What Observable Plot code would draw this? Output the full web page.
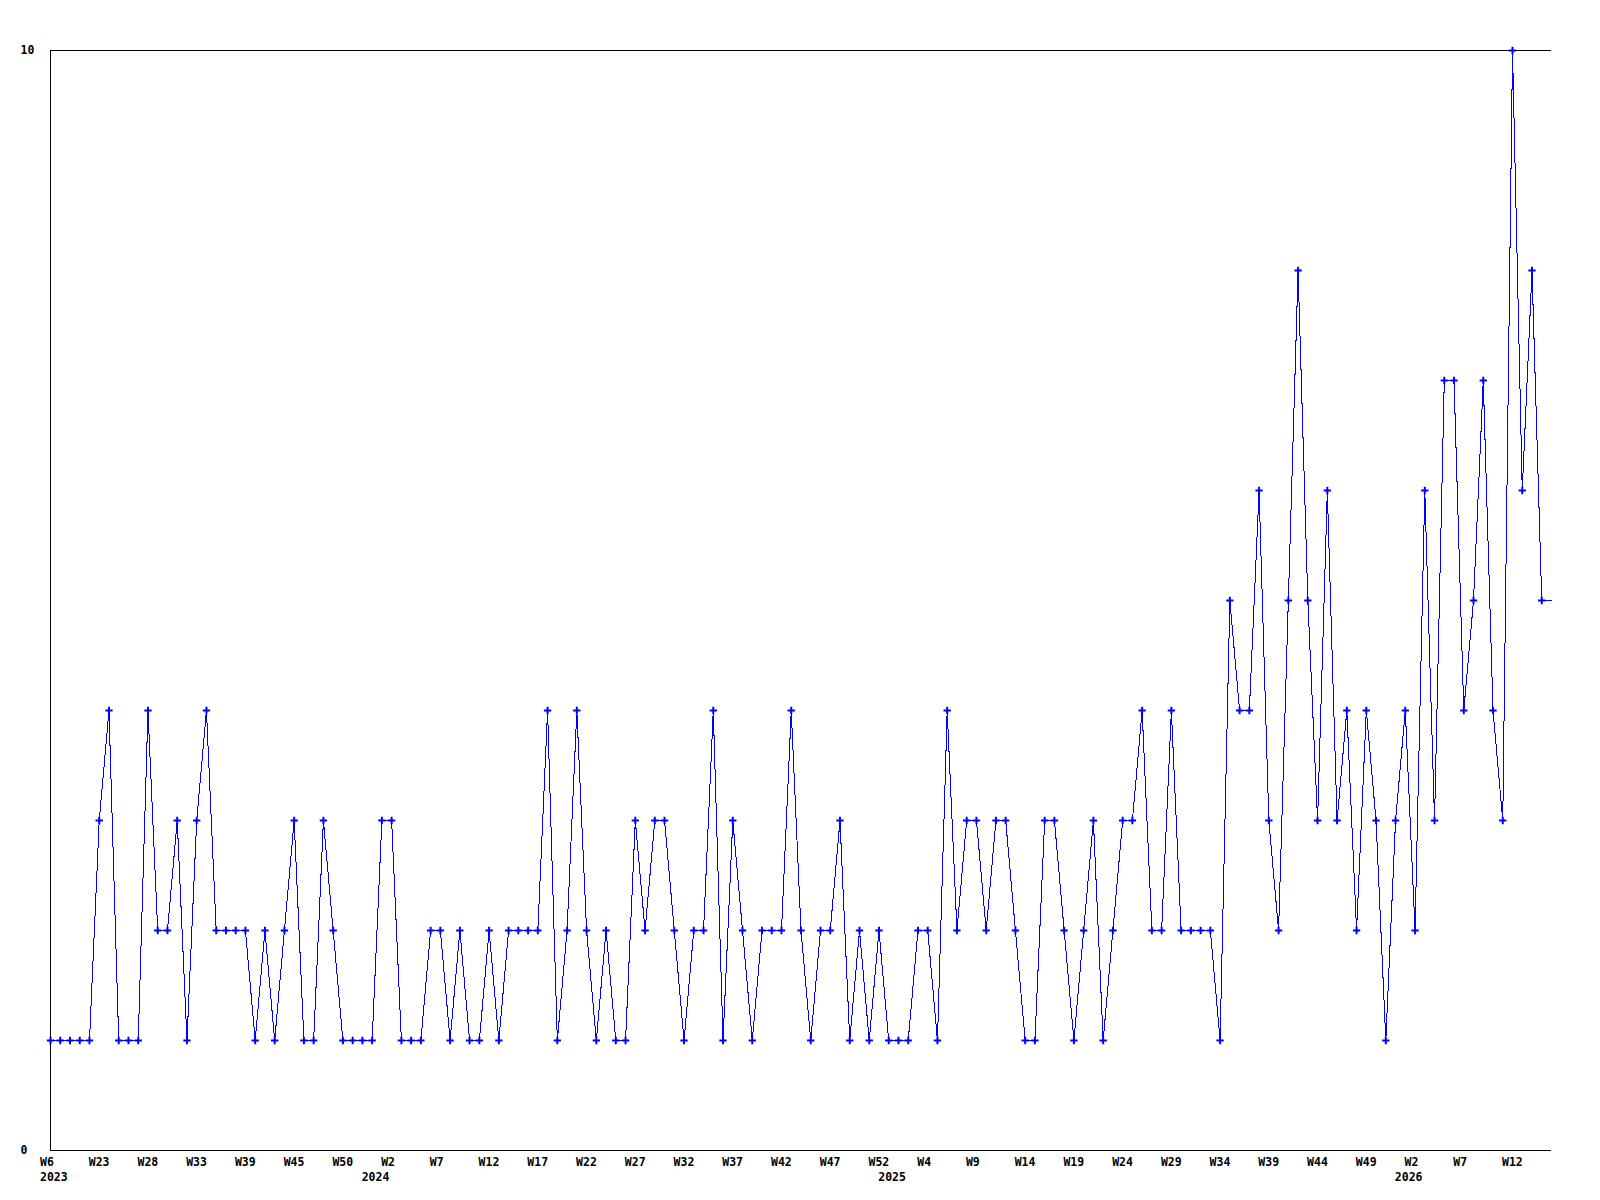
<!DOCTYPE html>
<html><head><meta charset="utf-8">
<script src="https://cdn.jsdelivr.net/npm/d3@7"></script>
<script src="https://cdn.jsdelivr.net/npm/@observablehq/plot@0.6"></script>
<style>html,body{margin:0;padding:0;background:#fff;} #chart svg{display:block;}</style>
</head><body><div id="chart"></div>
<script>
const values = [
  1,1,1,1,1,3,4,1,1,1, 4,2,2,3,1,3,4,2,2,2, 2,1,2,1,2,3,1,1,3,2,
  1,1,1,1,3,3,1,1,1,2, 2,1,2,1,1,2,1,2,2,2, 2,4,1,2,4,2,1,2,1,1,
  3,2,3,3,2,1,2,2,4,1, 3,2,1,2,2,2,4,2,1,2, 2,3,1,2,1,2,1,1,1,2,
  2,1,4,2,3,3,2,3,3,2, 1,1,3,3,2,1,2,3,1,2, 3,3,4,2,2,4,2,2,2,2,
  1,5,4,4,6,3,2,5,8,5, 3,6,3,4,2,4,3,1,3,4, 2,6,3,7,7,4,5,7,4,3,
  10,6,8,5
];
const weekTickIndex = [0,5,10,15,20,25,30,35,40,45,50,55,60,65,70,75,80,85,90,95,100,105,110,115,120,125,130,135,140,145,150];
const weekTickLabels = ["W6","W23","W28","W33","W39","W45","W50","W2","W7","W12","W17","W22","W27","W32","W37","W42","W47","W52","W4","W9","W14","W19","W24","W29","W34","W39","W44","W49","W2","W7","W12"];
const yearTickIndex = [0,33,86,139];
const yearTickLabels = ["2023","2024","2025","2026"];
const yTicks = [0,10];

const points = values.map((v, i) => ({i, v}));
const lineData = points.concat([{i: values.length, v: values[values.length - 1]}]);

const chart = Plot.plot({
  width: 1600, height: 1200,
  marginLeft: 50, marginRight: 49, marginTop: 50, marginBottom: 50,
  style: {fontFamily: "'DejaVu Sans Mono', monospace", fontSize: "11.5px", fontWeight: "bold", background: "#fff", color: "#000", overflow: "visible"},
  x: {domain: [0, values.length], axis: null},
  y: {domain: [0, 10], axis: null},
  marks: [
    Plot.ruleY([0, 10], {stroke: "#000", strokeWidth: 1, shapeRendering: "crispEdges"}),
    Plot.ruleX([0], {stroke: "#000", strokeWidth: 1, shapeRendering: "crispEdges"}),
    Plot.line(lineData, {x: "i", y: "v", stroke: "#0000ff", strokeWidth: 1, shapeRendering: "crispEdges"}),
    Plot.dot(points, {x: "i", y: "v", symbol: "plus", r: 2.5, stroke: "#0000ff", strokeWidth: 2}),
    Plot.axisX({ticks: weekTickIndex, tickFormat: (d) => weekTickLabels[weekTickIndex.indexOf(d)], tickSize: 0, tickPadding: 7, textAnchor: "start", dx: -10.5, label: null}),
    Plot.axisX({ticks: yearTickIndex, tickFormat: (d) => yearTickLabels[yearTickIndex.indexOf(d)], tickSize: 0, tickPadding: 7, dy: 15.5, textAnchor: "start", dx: -10.5, label: null}),
    Plot.axisY({ticks: yTicks, tickSize: 0, tickPadding: 0, textAnchor: "start", dx: -30, label: null})
  ]
});
document.getElementById("chart").appendChild(chart);
</script>
</body></html>
